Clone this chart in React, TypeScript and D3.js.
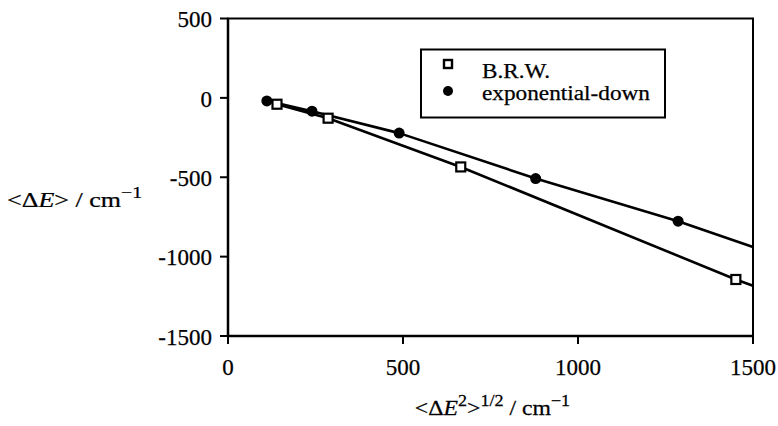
import React from "react";
import * as d3 from "d3";

// Axis ticks
const xTicks = [0, 500, 1000, 1500];
const yTicks = [500, 0, -500, -1000, -1500];

// B.R.W. model points
const brwX = [140, 286, 665, 1451];
const brwY = [-40, -128, -435, -1144];

// exponential-down model points
const expX = [111, 240, 489, 879, 1286];
const expY = [-19, -84, -222, -508, -777];

// Where each trend line leaves the plot at the right edge
const lineEndX = 1500;
const brwEndY = -1184;
const expEndY = -940;

const W = 778;
const H = 426;
const plot = { left: 228, right: 753, top: 18.5, bottom: 336 };
const FONT = "Liberation Serif";

export default function App() {
  const x = d3.scaleLinear().domain([0, 1500]).range([plot.left, plot.right]);
  const y = d3.scaleLinear().domain([-1500, 500]).range([plot.bottom, plot.top]);

  const brwPts: [number, number][] = brwX.map((v, i) => [v, brwY[i]]);
  const expPts: [number, number][] = expX.map((v, i) => [v, expY[i]]);

  const line = d3
    .line<[number, number]>()
    .x((d) => x(d[0]))
    .y((d) => y(d[1]));

  const brwLine = line([...brwPts, [lineEndX, brwEndY]]) || "";
  const expLine = line([...expPts, [lineEndX, expEndY]]) || "";

  const sq = 9;
  const txt = { fontFamily: FONT, fill: "#000", stroke: "#000", strokeWidth: 0.25 };

  return (
    <div style={{ position: "fixed", left: 0, top: 0 }}>
      <svg width={W} height={H} style={{ display: "block", background: "#fff" }}>
        {/* frame */}
        <rect
          x={plot.left}
          y={plot.top}
          width={plot.right - plot.left}
          height={plot.bottom - plot.top}
          fill="none"
          stroke="#000"
          strokeWidth={2}
        />
        <line x1={plot.left} x2={plot.left} y1={plot.top} y2={plot.bottom} stroke="#000" strokeWidth={2.5} />
        <line x1={plot.left} x2={plot.right} y1={plot.bottom} y2={plot.bottom} stroke="#000" strokeWidth={2.5} />

        {/* y ticks */}
        {yTicks.map((t) => (
          <g key={"y" + t}>
            <line x1={plot.left - 8} x2={plot.left} y1={y(t)} y2={y(t)} stroke="#000" strokeWidth={2} />
            <text x={212} y={y(t)} dy="0.38em" textAnchor="end" fontSize={23} style={txt}>
              {t}
            </text>
          </g>
        ))}

        {/* x ticks */}
        {xTicks.map((t) => (
          <g key={"x" + t}>
            <line x1={x(t)} x2={x(t)} y1={plot.bottom} y2={plot.bottom + 8} stroke="#000" strokeWidth={2} />
            <text x={x(t)} y={375} textAnchor="middle" fontSize={23} style={txt}>
              {t}
            </text>
          </g>
        ))}

        {/* trend lines */}
        <path d={brwLine} fill="none" stroke="#000" strokeWidth={2.6} strokeLinejoin="round" />
        <path d={expLine} fill="none" stroke="#000" strokeWidth={2.6} strokeLinejoin="round" />

        {/* markers */}
        {expPts.map((d, i) => (
          <circle key={"e" + i} cx={x(d[0])} cy={y(d[1])} r={5.5} fill="#000" />
        ))}
        {brwPts.map((d, i) => (
          <rect
            key={"b" + i}
            x={x(d[0]) - sq / 2}
            y={y(d[1]) - sq / 2}
            width={sq}
            height={sq}
            fill="#fff"
            stroke="#000"
            strokeWidth={2.2}
          />
        ))}

        {/* legend */}
        <rect x={421} y={49.5} width={244} height={68} fill="#fff" stroke="#000" strokeWidth={2} />
        <rect x={448 - 4} y={64 - 4} width={8} height={8} fill="#fff" stroke="#000" strokeWidth={2.4} />
        <circle cx={448} cy={91} r={5} fill="#000" />
        <text x={482} y={77.5} fontSize={20} textLength={68} lengthAdjust="spacingAndGlyphs" style={txt}>
          B.R.W.
        </text>
        <text x={482} y={99.5} fontSize={20} textLength={168} lengthAdjust="spacingAndGlyphs" style={txt}>
          exponential-down
        </text>

        {/* y axis title */}
        <g transform="translate(7,207) scale(1.24,1)">
          <text x={0} y={0} fontSize={21} style={txt}>
            {"<Δ"}
            <tspan fontStyle="italic">E</tspan>
            {"> / cm"}
            <tspan dy={-9} fontSize={16}>
              −1
            </tspan>
          </text>
        </g>

        {/* x axis title */}
        <g transform={`translate(${(plot.left + plot.right) / 2 + 2},415) scale(1.13,1)`}>
          <text x={0} y={0} textAnchor="middle" fontSize={21} style={txt}>
            {"<Δ"}
            <tspan fontStyle="italic">E</tspan>
            <tspan dy={-9} fontSize={16}>
              2
            </tspan>
            <tspan dy={9}>{">"}</tspan>
            <tspan dy={-9} fontSize={16}>
              1/2
            </tspan>
            <tspan dy={9}>{" / cm"}</tspan>
            <tspan dy={-9} fontSize={16}>
              −1
            </tspan>
          </text>
        </g>
      </svg>
    </div>
  );
}
